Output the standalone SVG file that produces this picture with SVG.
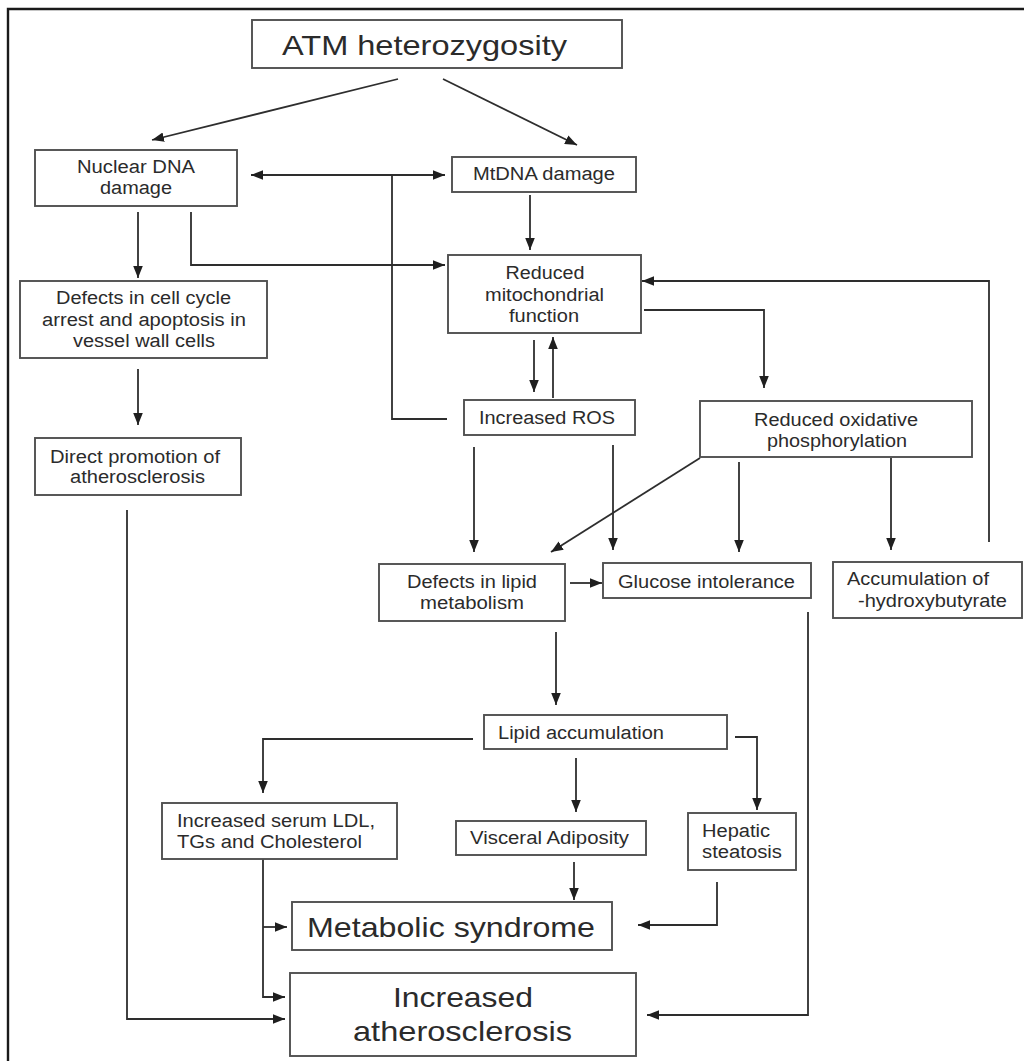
<svg xmlns="http://www.w3.org/2000/svg" width="1024" height="1061" viewBox="0 0 1024 1061">
  <style>
    .box { fill: #ffffff; stroke: #505050; stroke-width: 1.9; }
    .t { font-family: "Liberation Sans", Arial, sans-serif; font-size: 18px; fill: #2b2b2b; }
    .big { font-family: "Liberation Sans", Arial, sans-serif; font-size: 28px; fill: #2b2b2b; }
    .c { text-anchor: middle; }
    .edge { fill: none; stroke: #2e2e2e; stroke-width: 1.8; }
    .arr { marker-end: url(#head); }
  </style>
  <defs>
    <marker id="head" viewBox="0 0 10 8" refX="10" refY="4" markerWidth="12" markerHeight="10" markerUnits="userSpaceOnUse" orient="auto-start-reverse">
      <path d="M0,0 L10,4 L0,8 z" fill="#1f1f1f"/>
    </marker>
  </defs>

  <rect width="1024" height="1061" fill="#ffffff"/>
  <!-- frame -->
  <path d="M8,1061 V9 H1024" fill="none" stroke="#1a1a1a" stroke-width="2.4"/>

  <g id="connectors">
    <line class="edge arr" x1="398" y1="79" x2="152" y2="140"/>
    <line class="edge arr" x1="443" y1="79" x2="577" y2="145"/>
    <line class="edge arr" x1="251" y1="175" x2="445" y2="175" marker-start="url(#head)"/>
    <polyline class="edge" points="447,419 392,419 392,175"/>
    <line class="edge arr" x1="530" y1="195" x2="530" y2="250"/>
    <polyline class="edge arr" points="191,212 191,265 445,265"/>
    <line class="edge arr" x1="138" y1="212" x2="138" y2="278"/>
    <line class="edge arr" x1="138" y1="369" x2="138" y2="425"/>
    <polyline class="edge arr" points="127,510 127,1019 285,1019"/>
    <line class="edge arr" x1="534" y1="340" x2="534" y2="392"/>
    <line class="edge arr" x1="553" y1="398" x2="553" y2="337"/>
    <polyline class="edge arr" points="644,310 764,310 764,388"/>
    <polyline class="edge arr" points="989,542 989,281 642,281"/>
    <line class="edge arr" x1="474" y1="447" x2="474" y2="552"/>
    <line class="edge arr" x1="613" y1="445" x2="613" y2="550"/>
    <line class="edge arr" x1="700" y1="458" x2="551" y2="552"/>
    <line class="edge arr" x1="739" y1="462" x2="739" y2="552"/>
    <line class="edge arr" x1="891" y1="458" x2="891" y2="550"/>
    <line class="edge arr" x1="570" y1="583" x2="602" y2="583"/>
    <polyline class="edge arr" points="808,612 808,1015 647,1015"/>
    <line class="edge arr" x1="556" y1="632" x2="556" y2="705"/>
    <polyline class="edge arr" points="473,739 263,739 263,793"/>
    <line class="edge arr" x1="576" y1="758" x2="576" y2="812"/>
    <polyline class="edge arr" points="735,737 757,737 757,810"/>
    <line class="edge arr" x1="574" y1="862" x2="574" y2="900"/>
    <polyline class="edge arr" points="717,882 717,925 638,925"/>
    <polyline class="edge arr" points="263,859 263,997 285,997"/>
    <line class="edge arr" x1="263" y1="927" x2="287" y2="927"/>
  </g>

  <g id="atm">
    <rect class="box" x="252" y="20" width="370" height="48"/>
    <text class="big c" x="424.5" y="55" textLength="285" lengthAdjust="spacingAndGlyphs">ATM heterozygosity</text>
  </g>
  <g id="nuclear-dna">
    <rect class="box" x="35" y="150" width="202" height="56"/>
    <text class="t c" x="136" y="173" textLength="118" lengthAdjust="spacingAndGlyphs">Nuclear DNA</text>
    <text class="t c" x="136" y="194" textLength="72" lengthAdjust="spacingAndGlyphs">damage</text>
  </g>
  <g id="mtdna">
    <rect class="box" x="452" y="157" width="184" height="35"/>
    <text class="t c" x="544" y="180" textLength="142" lengthAdjust="spacingAndGlyphs">MtDNA damage</text>
  </g>
  <g id="mito">
    <rect class="box" x="448" y="255" width="193" height="78"/>
    <text class="t c" x="545" y="279" textLength="79" lengthAdjust="spacingAndGlyphs">Reduced</text>
    <text class="t c" x="544.5" y="301" textLength="119" lengthAdjust="spacingAndGlyphs">mitochondrial</text>
    <text class="t c" x="544" y="322" textLength="70" lengthAdjust="spacingAndGlyphs">function</text>
  </g>
  <g id="cell-cycle">
    <rect class="box" x="20" y="281" width="247" height="77"/>
    <text class="t c" x="143.5" y="304" textLength="175" lengthAdjust="spacingAndGlyphs">Defects in cell cycle</text>
    <text class="t c" x="144" y="326" textLength="204" lengthAdjust="spacingAndGlyphs">arrest and apoptosis in</text>
    <text class="t c" x="144" y="347" textLength="142" lengthAdjust="spacingAndGlyphs">vessel wall cells</text>
  </g>
  <g id="direct-promotion">
    <rect class="box" x="35" y="438" width="206" height="57"/>
    <text class="t c" x="135" y="463" textLength="170" lengthAdjust="spacingAndGlyphs">Direct promotion of</text>
    <text class="t c" x="137.5" y="483" textLength="135" lengthAdjust="spacingAndGlyphs">atherosclerosis</text>
  </g>
  <g id="ros">
    <rect class="box" x="464" y="400" width="171" height="35"/>
    <text class="t c" x="547" y="424" textLength="136" lengthAdjust="spacingAndGlyphs">Increased ROS</text>
  </g>
  <g id="oxphos">
    <rect class="box" x="700" y="401" width="272" height="56"/>
    <text class="t c" x="836" y="426" textLength="164" lengthAdjust="spacingAndGlyphs">Reduced oxidative</text>
    <text class="t c" x="837" y="447" textLength="140" lengthAdjust="spacingAndGlyphs">phosphorylation</text>
  </g>
  <g id="lipid-metabolism">
    <rect class="box" x="379" y="564" width="186" height="57"/>
    <text class="t c" x="472" y="588" textLength="130" lengthAdjust="spacingAndGlyphs">Defects in lipid</text>
    <text class="t c" x="472" y="609" textLength="104" lengthAdjust="spacingAndGlyphs">metabolism</text>
  </g>
  <g id="glucose">
    <rect class="box" x="603" y="563" width="208" height="35"/>
    <text class="t c" x="706.5" y="588" textLength="177" lengthAdjust="spacingAndGlyphs">Glucose intolerance</text>
  </g>
  <g id="hydroxybutyrate">
    <rect class="box" x="833" y="562" width="189" height="56"/>
    <text class="t" x="847" y="585" textLength="142" lengthAdjust="spacingAndGlyphs">Accumulation of</text>
    <text class="t" x="858" y="607" textLength="149" lengthAdjust="spacingAndGlyphs">-hydroxybutyrate</text>
  </g>
  <g id="lipid-accumulation">
    <rect class="box" x="484" y="715" width="243" height="34"/>
    <text class="t" x="498" y="739" textLength="166" lengthAdjust="spacingAndGlyphs">Lipid accumulation</text>
  </g>
  <g id="serum-ldl">
    <rect class="box" x="162" y="803" width="235" height="56"/>
    <text class="t" x="177" y="827" textLength="198" lengthAdjust="spacingAndGlyphs">Increased serum LDL,</text>
    <text class="t" x="177" y="848" textLength="185" lengthAdjust="spacingAndGlyphs">TGs and Cholesterol</text>
  </g>
  <g id="visceral">
    <rect class="box" x="456" y="821" width="190" height="34"/>
    <text class="t" x="470" y="844" textLength="159" lengthAdjust="spacingAndGlyphs">Visceral Adiposity</text>
  </g>
  <g id="hepatic">
    <rect class="box" x="688" y="813" width="108" height="57"/>
    <text class="t" x="702" y="837" textLength="68" lengthAdjust="spacingAndGlyphs">Hepatic</text>
    <text class="t" x="702" y="858" textLength="80" lengthAdjust="spacingAndGlyphs">steatosis</text>
  </g>
  <g id="metabolic-syndrome">
    <rect class="box" x="292" y="902" width="320" height="48"/>
    <text class="big" x="307" y="937" textLength="288" lengthAdjust="spacingAndGlyphs">Metabolic syndrome</text>
  </g>
  <g id="atherosclerosis">
    <rect class="box" x="290" y="973" width="346" height="83"/>
    <text class="big" x="393" y="1007" textLength="140" lengthAdjust="spacingAndGlyphs">Increased</text>
    <text class="big" x="353" y="1041" textLength="219" lengthAdjust="spacingAndGlyphs">atherosclerosis</text>
  </g>
</svg>
